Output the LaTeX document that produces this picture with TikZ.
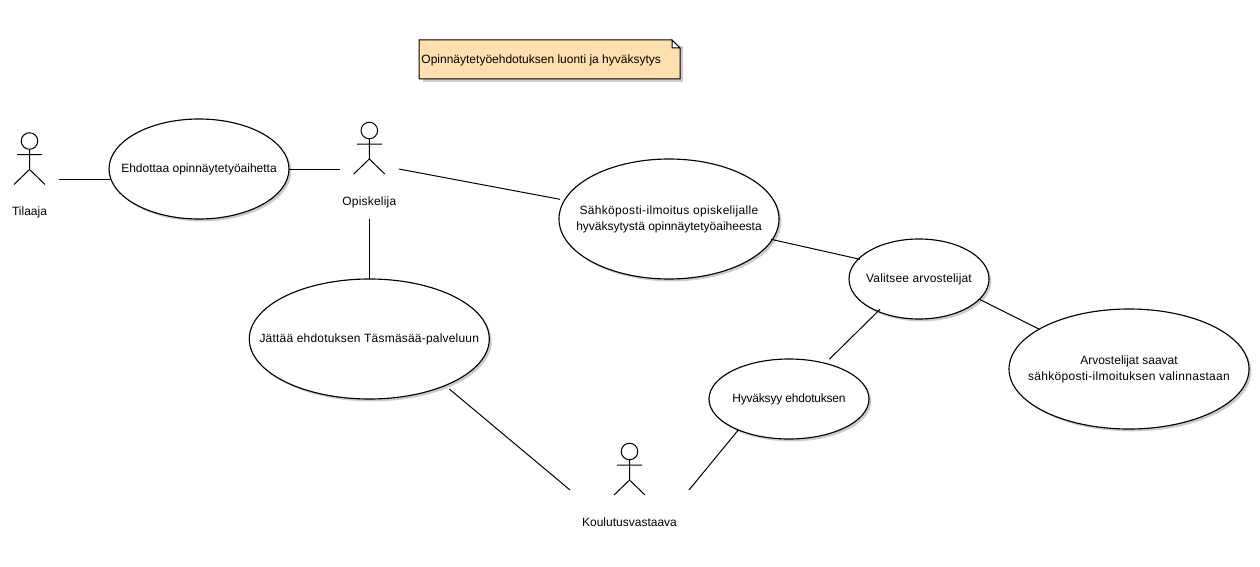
\documentclass[tikz,border=0pt]{standalone}
\usepackage{fontspec}
\setmainfont{Liberation Sans}
\usetikzlibrary{shapes.geometric,shadows,calc}
\definecolor{noteorange}{HTML}{FFDFAE}
\tikzset{
  softshadow/.style={general shadow={shadow xshift=1.8pt,shadow yshift=-1.8pt,fill=black!40,opacity=.5}},
  usecase/.style={ellipse,draw=black,fill=white,line width=.85pt,inner sep=0pt,outer sep=0pt,softshadow,font=\fontsize{9}{12}\selectfont},
  actorbox/.style={rectangle,draw=none,fill=none,inner sep=0pt,outer sep=0pt,minimum height=75pt},
  actorline/.style={draw=black,line width=.75pt},
  assoc/.style={draw=black,line width=.75pt},
  lbl/.style={inner sep=0pt,font=\fontsize{9}{11}\selectfont},
}
\newcommand{\ls}[2]{{\addfontfeature{LetterSpace=#1}#2}}
\newcommand{\uctext}[1]{\makebox[0pt]{\raisebox{-1.8pt}{\begin{tabular}{@{}c@{}}#1\end{tabular}}}}
\newcommand{\umlactor}[5]{%
  \node[actorbox,minimum width=#4*0.75pt] (#1) at (#2,#3) {};
  \begin{scope}[shift={(#2,#3)}]
    \draw[actorline] (0,-38.5) circle[radius=6.2pt];
    \draw[actorline] (0,-30) -- (0,-10) (-12.5,-25) -- (12.5,-25) (-15.5,5) -- (0,-10) -- (15.5,5);
  \end{scope}
  \node[lbl,anchor=base] (#1label) at (#2,#3+36.3) {#5};
}
\begin{document}
\begin{tikzpicture}[x=0.75pt,y=-0.75pt]
\useasboundingbox[fill=white] (0,0) rectangle (1260,567);

\node[inner sep=0pt,outer sep=0pt,minimum width=195.75pt,minimum height=29.25pt] (note) at (549.5,59.5) {};
\fill[black!40,opacity=.5] (423,46) -- (683,46) -- (683,82) -- (423,82) -- cycle;
\draw[fill=noteorange,draw=black,line width=.75pt] (note.north west) -- ([xshift=-6pt]note.north east) -- ([yshift=-6pt]note.north east) -- (note.south east) -- (note.south west) -- cycle;
\draw[fill=white,draw=black,line width=.75pt] ([xshift=-6pt]note.north east) -- ([xshift=-6pt,yshift=-6pt]note.north east) -- ([yshift=-6pt]note.north east) -- cycle;
\node[lbl,anchor=base west] (notetext) at ($(note.west)+(2.2,4.5)$) {Opinnäytetyöehdotuksen luonti ja hyväksytys};

\node[usecase,minimum width=135pt,minimum height=75pt] (ehd) at (199,169) {\uctext{Ehdottaa opinnäytetyöaihetta}};
\node[usecase,minimum width=165pt,minimum height=90pt] (sah) at (669,219) {\uctext{\ls{2.7}{Sähköposti-ilmoitus opiskelijalle}\\hyväksytystä opinnäytetyöaiheesta}};
\node[usecase,minimum width=105pt,minimum height=60pt] (val) at (919,279) {\uctext{\ls{1.4}{Valitsee arvostelijat}}};
\node[usecase,minimum width=180pt,minimum height=90pt] (jat) at (369.3,339) {\uctext{\ls{1.7}{Jättää ehdotuksen Täsmäsää-palveluun}}};
\node[usecase,minimum width=120pt,minimum height=60pt] (hyv) at (789,399) {\uctext{\ls{-1.7}{Hyväksyy ehdotuksen}}};
\node[usecase,minimum width=180pt,minimum height=90pt] (arv) at (1129,369) {\uctext{Arvostelijat saavat\\\ls{2.4}{sähköposti-ilmoituksen valinnastaan}}};

\umlactor{tilaaja}{29.5}{179.5}{59}{Tilaaja}
\umlactor{opis}{369.3}{169}{59}{\ls{1.8}{Opiskelija}}
\umlactor{koul}{629.5}{490}{119}{Koulutusvastaava}

\draw[assoc] (tilaaja.east) -- ($(ehd)+(-89,10.5)$);
\draw[assoc] (ehd.east) -- (opis.west);
\draw[assoc] (opis.east) -- ($(sah)+(-109,-19.7)$);
\draw[assoc] (opis.south) -- (jat.north);
\draw[assoc] ($(sah)+(102,20.3)$) -- ($(val)+(-59,-19.7)$);
\draw[assoc] ($(val)+(60.3,20.3)$) -- ($(arv)+(-89.7,-39.7)$);
\draw[assoc] ($(val)+(-39,30.3)$) -- ($(hyv)+(40.3,-39.7)$);
\draw[assoc] ($(hyv)+(-50.7,31)$) -- (koul.east);
\draw[assoc] ($(jat)+(80,50)$) -- (koul.west);
\end{tikzpicture}
\end{document}
